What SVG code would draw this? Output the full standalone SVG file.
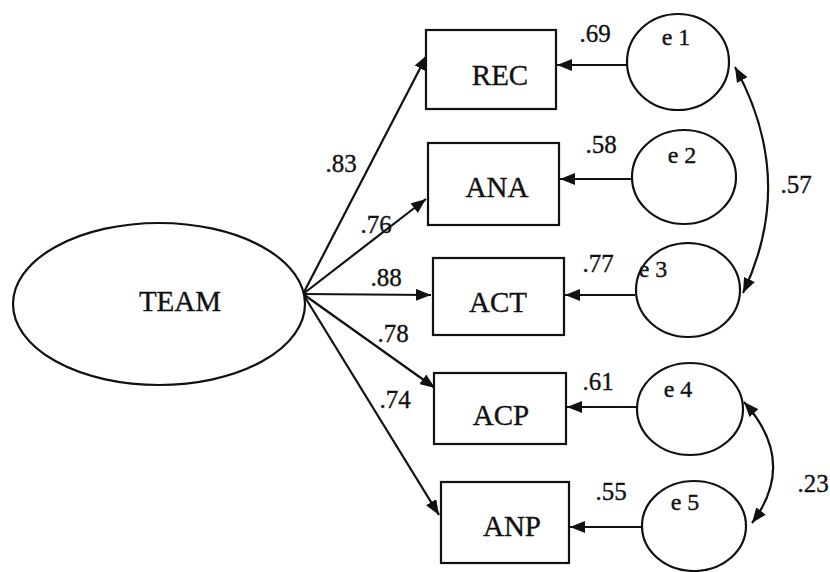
<svg xmlns="http://www.w3.org/2000/svg" width="830" height="572" viewBox="0 0 830 572">
<style>
.shape{fill:#fff;stroke:#111;stroke-width:2.2}
text{font-family:'Liberation Serif','Times New Roman',serif;fill:#111;stroke:#111;stroke-width:0.35;text-anchor:middle}
.lbl{font-size:29px}
.num{font-size:25px}
.err{font-size:24px}
.conn{fill:none;stroke:#111;stroke-width:2.2}
</style>
<defs>
<marker id="ah" markerUnits="userSpaceOnUse" markerWidth="15" markerHeight="12" refX="15" refY="6" orient="auto-start-reverse">
<path d="M0,0 L15,6 L0,12 z" fill="#111"/>
</marker>
</defs>
<rect width="830" height="572" fill="#fff"/>
<g id="connectors">
<line class="conn" x1="303" y1="294" x2="427" y2="55" marker-end="url(#ah)"/>
<line class="conn" x1="303" y1="294" x2="426" y2="199" marker-end="url(#ah)"/>
<line class="conn" x1="303" y1="294" x2="431" y2="295" marker-end="url(#ah)"/>
<line class="conn" x1="303" y1="294" x2="435" y2="388" marker-end="url(#ah)"/>
<line class="conn" x1="303" y1="294" x2="439" y2="515" marker-end="url(#ah)"/>
<line class="conn" x1="627" y1="65" x2="557" y2="65" marker-end="url(#ah)"/>
<line class="conn" x1="632" y1="179" x2="560" y2="179" marker-end="url(#ah)"/>
<line class="conn" x1="635" y1="295" x2="565" y2="295" marker-end="url(#ah)"/>
<line class="conn" x1="637" y1="407" x2="567" y2="407" marker-end="url(#ah)"/>
<line class="conn" x1="642" y1="527" x2="570" y2="527" marker-end="url(#ah)"/>
<path class="conn" d="M735,67 Q797,180 743,293" marker-start="url(#ah)" marker-end="url(#ah)"/>
<path class="conn" d="M744,402 Q798,462 752,523" marker-start="url(#ah)" marker-end="url(#ah)"/>
<text class="num" x="341" y="172">.83</text>
<text class="num" x="376" y="233">.76</text>
<text class="num" x="386" y="286">.88</text>
<text class="num" x="393" y="342">.78</text>
<text class="num" x="395" y="408">.74</text>
<text class="num" x="595" y="42">.69</text>
<text class="num" x="601" y="153">.58</text>
<text class="num" x="598" y="272">.77</text>
<text class="num" x="598" y="390">.61</text>
<text class="num" x="611" y="500">.55</text>
<text class="num" x="796" y="193">.57</text>
<text class="num" x="813" y="492">.23</text>
</g>
<g id="TEAM">
<ellipse class="shape" cx="159" cy="304" rx="146" ry="81"/>
<text class="lbl" x="180" y="311">TEAM</text>
</g>
<g id="REC">
<rect class="shape" x="426" y="30" width="130" height="79"/>
<text class="lbl" x="500" y="85">REC</text>
</g>
<g id="ANA">
<rect class="shape" x="428" y="143" width="131" height="82"/>
<text class="lbl" x="497" y="197">ANA</text>
</g>
<g id="ACT">
<rect class="shape" x="433" y="258" width="131" height="77"/>
<text class="lbl" x="498" y="312">ACT</text>
</g>
<g id="ACP">
<rect class="shape" x="434" y="373" width="132" height="71"/>
<text class="lbl" x="501" y="425">ACP</text>
</g>
<g id="ANP">
<rect class="shape" x="441" y="482" width="128" height="81"/>
<text class="lbl" x="512" y="536">ANP</text>
</g>
<g id="e1">
<ellipse class="shape" cx="678" cy="62" rx="51" ry="48"/>
<text class="err" x="676" y="45">e 1</text>
</g>
<g id="e2">
<ellipse class="shape" cx="684" cy="177" rx="52" ry="47"/>
<text class="err" x="682" y="163">e 2</text>
</g>
<g id="e3">
<ellipse class="shape" cx="688" cy="290" rx="52" ry="47"/>
<text class="err" x="653" y="277">e 3</text>
</g>
<g id="e4">
<ellipse class="shape" cx="690" cy="409" rx="53" ry="46"/>
<text class="err" x="678" y="397">e 4</text>
</g>
<g id="e5">
<ellipse class="shape" cx="694" cy="526" rx="52" ry="45"/>
<text class="err" x="685" y="510">e 5</text>
</g>
</svg>
